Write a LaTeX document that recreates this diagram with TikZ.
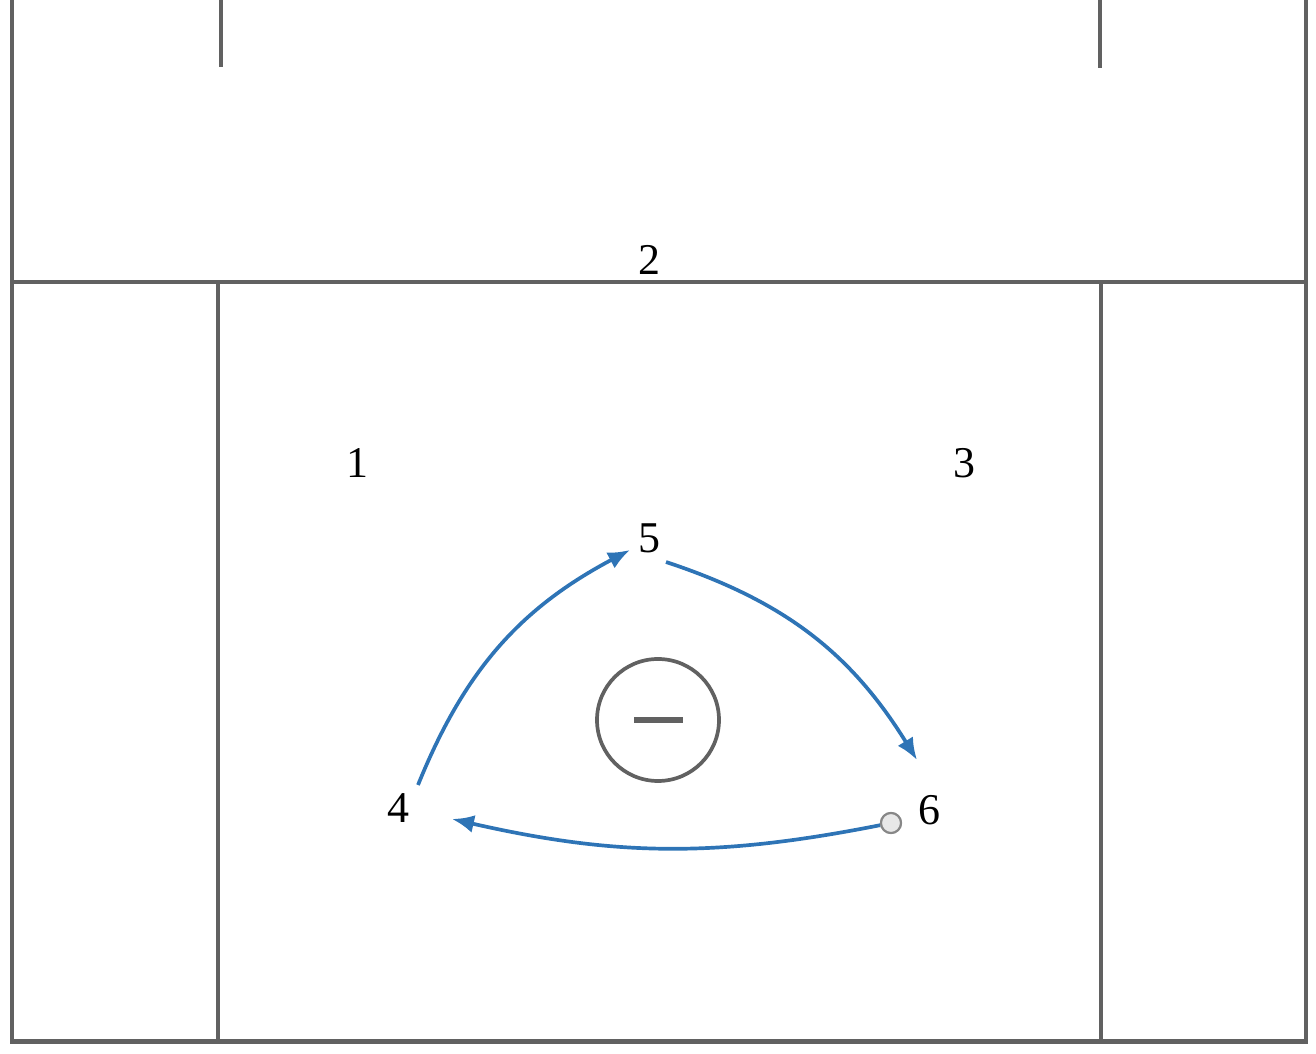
\documentclass[tikz,border=0pt]{standalone}
\usepackage{fontspec}
\setmainfont{Liberation Serif}
\usetikzlibrary{arrows.meta}
\definecolor{courtgray}{RGB}{97,97,97}
\definecolor{passblue}{RGB}{46,116,182}
\definecolor{ballfill}{RGB}{232,232,232}
\definecolor{balldraw}{RGB}{135,135,135}
\begin{document}
\begin{tikzpicture}
 	\useasboundingbox (0,0) rectangle (13.16,10.54);
 	
 	\tikzstyle{court}=[draw=courtgray, line width=1.05pt]
 	\tikzstyle{spot}=[font=\fontsize{12.5}{15}\selectfont, color=black]
 	\tikzstyle{pass}=[-{Latex[length=2.2mm,width=1.8mm]}, line width=1.05pt, passblue]
 	\tikzstyle{ball}=[circle, draw=balldraw, fill=ballfill, line width=0.6pt, minimum size=0.2cm, inner sep=0pt]
 	\tikzstyle{goalie}=[circle, draw=courtgray, line width=1.05pt, minimum size=1.22cm, inner sep=0pt]
 	
 	% terrain
 	\draw[court] (0.12,10.54) -- (0.12,0.12) -- (13.06,0.12) -- (13.06,10.54);
 	\draw[court, line width=1.3pt] (0.12,0.125) -- (13.06,0.125);
 	\draw[court] (0.12,7.72) -- (13.06,7.72);
 	\draw[court] (2.18,7.72) rectangle (11.01,0.13);
 	\draw[court] (2.21,10.54) -- (2.21,9.87);
 	\draw[court] (11.00,10.54) -- (11.00,9.86);
 	
 	% gardien
 	\node[goalie] (g) at (6.58,3.34) {};
 	\draw[courtgray, line width=1.6pt] (6.34,3.34) -- (6.83,3.34);
 	
 	% placement des joueurs
 	\node[spot] (p1) at (3.57,5.91) {1};
 	\node[spot] (p2) at (6.49,7.94) {2};
 	\node[spot] (p3) at (9.64,5.91) {3};
 	\node[spot] (p4) at (3.98,2.46) {4};
 	\node[spot] (p5) at (6.49,5.16) {5};
 	\node[spot] (p6) at (9.29,2.44) {6};
 	\node[ball] (b) at (8.91,2.31) {};
 	
 	% bouts des passes
 	\coordinate (s4) at (4.18,2.69);
 	\coordinate (e5) at (6.30,5.04);
 	\coordinate (s5) at (6.66,4.92);
 	\coordinate (e6) at (9.17,2.94);
 	\coordinate (e4) at (4.52,2.35);
 	
 	\draw[pass] (s4) to [bend left=20] (e5);
 	\draw[pass] (s5) to [bend left=20] (e6);
 	\draw[pass] (b) to [bend left=12] (e4);
 	\node[ball] at (b) {};
 	
\end{tikzpicture}
\end{document}
